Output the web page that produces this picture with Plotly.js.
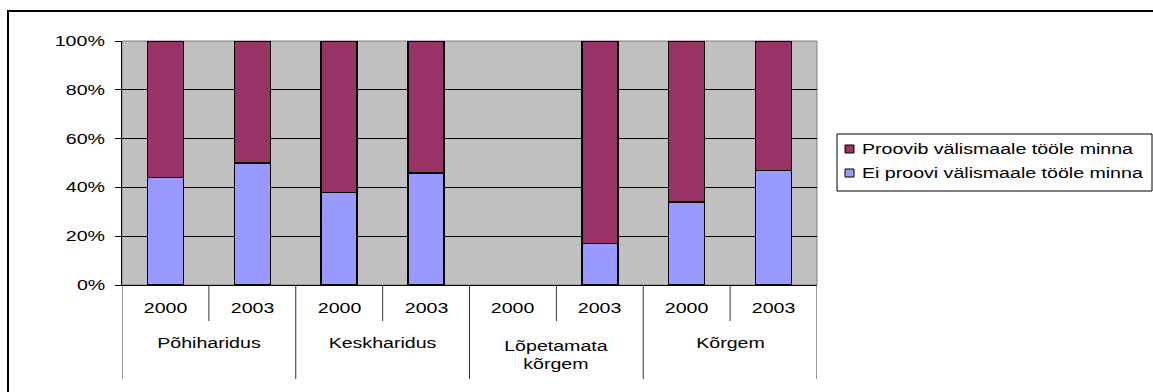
<!DOCTYPE html>
<html>
<head>
<meta charset="utf-8">
<script src="https://cdn.plot.ly/plotly-3.0.1.min.js"></script>
<style>
  html, body { margin: 0; padding: 0; background: #ffffff; }
  #chart { width: 1153px; height: 392px; }
</style>
</head>
<body>
<div id="chart"></div>
<script>
// Education level groups and survey years
const groups = ['Põhiharidus', 'Keskharidus', 'Lõpetamata<br>kõrgem', 'Kõrgem'];
const years = ['2000', '2003'];

// Series (percent of respondents); no data for Lõpetamata kõrgem 2000
const seriesNames = ['Proovib välismaale tööle minna', 'Ei proovi välismaale tööle minna'];
const eiProovi = [44, 50, 38, 46, null, 17, 34, 47];
const proovib  = [56, 50, 62, 54, null, 83, 66, 53];

// Y axis ticks
const yTickVals = [0, 20, 40, 60, 80, 100];
const yTickText = ['0%', '20%', '40%', '60%', '80%', '100%'];

const colors = { proovib: '#993366', ei: '#9999FF', plotBg: '#C0C0C0' };

// Plot area in pixels
const W = 1153, H = 392;
const L = 122, R = 817, T = 41, B = 285;
const px = x => (x - L) / (R - L);   // pixel -> paper x
const py = y => (B - y) / (B - T);   // pixel -> paper y

// horizontal stretch applied to the wide, Excel-like lettering
const TEXT_STRETCH = 1.4;

// one slot per (group, year)
const idx = [];
const yearOf = [];
groups.forEach((g, gi) => years.forEach((yr, yi) => { idx.push(gi * years.length + yi); yearOf.push(yr); }));
const nCat = idx.length;

const font = { family: 'Liberation Sans, Arial, sans-serif', size: 14, color: '#000000' };

const traces = [
  {
    type: 'bar', name: seriesNames[1], x: idx, y: eiProovi, width: 0.414,
    marker: { color: colors.ei, line: { color: '#000000', width: 1.5 } },
    hoverinfo: 'skip', showlegend: false
  },
  {
    type: 'bar', name: seriesNames[0], x: idx, y: proovib, width: 0.414,
    marker: { color: colors.proovib, line: { color: '#000000', width: 1.5 } },
    hoverinfo: 'skip', showlegend: false
  }
];

const shapes = [];
const annotations = [];

// category table lines under the axis
for (let i = 0; i <= nCat; i++) {
  const isGroupEdge = i % years.length === 0;
  shapes.push({
    type: 'line', xref: 'x', yref: 'paper', x0: i - 0.5, x1: i - 0.5,
    y0: 0, y1: isGroupEdge ? py(379) : py(321),
    line: { color: '#333333', width: 1 }
  });
}

// year labels
idx.forEach((i, k) => {
  annotations.push({
    xref: 'x', yref: 'paper', x: i, y: py(308), text: yearOf[k],
    showarrow: false, xanchor: 'center', yanchor: 'middle', font: font
  });
});

// group labels
groups.forEach((g, gi) => {
  const twoLine = g.indexOf('<br>') >= 0;
  annotations.push({
    xref: 'x', yref: 'paper', x: gi * years.length + (years.length - 1) / 2,
    y: twoLine ? py(355) : py(343), text: g,
    showarrow: false, xanchor: 'center', yanchor: 'middle', font: font
  });
});

// y tick labels
yTickVals.forEach((v, k) => {
  annotations.push({
    xref: 'paper', yref: 'y', x: 0, xshift: -15, y: v, text: yTickText[k],
    showarrow: false, xanchor: 'right', align: 'right', yanchor: 'middle', font: font
  });
});

// plot area frame (gray)
shapes.push({
  type: 'rect', xref: 'paper', yref: 'paper', x0: 0, x1: 1, y0: 0, y1: 1,
  line: { color: '#808080', width: 1 }, layer: 'below'
});

// legend box, swatches and labels
shapes.push({
  type: 'rect', xref: 'paper', yref: 'paper',
  x0: px(837), x1: px(1152), y0: py(191), y1: py(134),
  line: { color: '#000000', width: 1 }, fillcolor: '#ffffff'
});
const legendRows = [
  { name: seriesNames[0], color: colors.proovib, yc: 149 },
  { name: seriesNames[1], color: colors.ei, yc: 173 }
];
legendRows.forEach(r => {
  shapes.push({
    type: 'rect', xref: 'paper', yref: 'paper',
    x0: px(845), x1: px(854), y0: py(r.yc + 4), y1: py(r.yc - 4),
    line: { color: '#000000', width: 1 }, fillcolor: r.color
  });
  annotations.push({
    xref: 'paper', yref: 'paper', x: px(860), y: py(r.yc), text: r.name,
    showarrow: false, xanchor: 'left', align: 'left', yanchor: 'middle', font: font
  });
});

// outer chart frame
shapes.push({
  type: 'rect', xref: 'paper', yref: 'paper',
  x0: px(8), x1: px(1170), y0: py(420), y1: py(11),
  line: { color: '#000000', width: 2 }
});

const layout = {
  width: W, height: H,
  margin: { l: L, r: W - R, t: T, b: H - B, pad: 0 },
  paper_bgcolor: '#ffffff',
  plot_bgcolor: colors.plotBg,
  barmode: 'stack',
  showlegend: false,
  font: font,
  xaxis: {
    range: [-0.5, nCat - 0.5], showticklabels: false, ticks: '',
    showgrid: false, zeroline: false,
    showline: true, linecolor: '#000000', linewidth: 1, fixedrange: true
  },
  yaxis: {
    range: [0, 100], tickvals: yTickVals, showticklabels: false,
    ticks: 'outside', ticklen: 6, tickcolor: '#000000', tickwidth: 1,
    showgrid: true, gridcolor: '#000000', gridwidth: 1,
    zeroline: false, showline: true, linecolor: '#000000', linewidth: 1,
    fixedrange: true
  },
  shapes: shapes,
  annotations: annotations
};

// stretch each label horizontally, keeping its anchor edge fixed
function stretchLabels(gd) {
  gd.querySelectorAll('text.annotation-text').forEach(el => {
    const bb = el.getBBox();
    const anchor = el.getAttribute('text-anchor');
    let ox = bb.x + bb.width / 2;
    if (anchor === 'start') ox = bb.x;
    else if (anchor === 'end') ox = bb.x + bb.width;
    const prev = el.getAttribute('transform') || '';
    el.setAttribute('transform',
      prev + ' matrix(' + TEXT_STRETCH + ',0,0,1,' + (ox * (1 - TEXT_STRETCH)) + ',0)');
  });
}

Plotly.newPlot('chart', traces, layout, { staticPlot: true, displayModeBar: false })
  .then(gd => stretchLabels(gd));
</script>
</body>
</html>
